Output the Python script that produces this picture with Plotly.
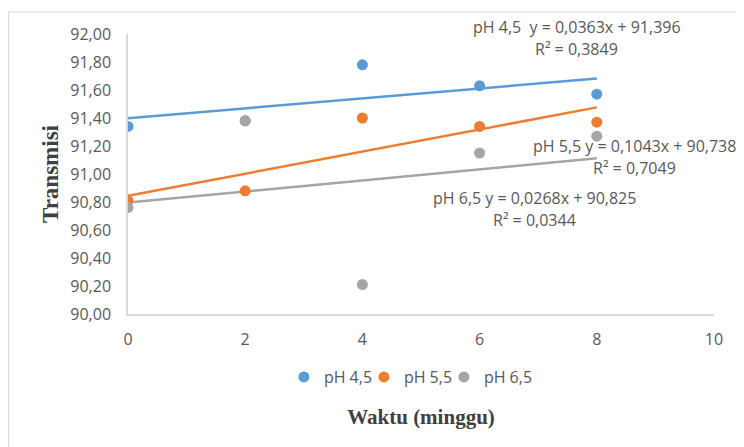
import numpy as np
import plotly.graph_objects as go

weeks = [0, 2, 4, 6, 8]
series_names = ["pH 4,5", "pH 5,5", "pH 6,5"]
ph45 = [91.34, 91.38, 91.78, 91.63, 91.57]
ph55 = [90.81, 90.88, 91.40, 91.34, 91.37]
ph65 = [90.76, 91.38, 90.21, 91.15, 91.27]
eq_labels = ["pH 4,5\u00a0\u00a0y = 0,0363x + 91,396",
             "pH 5,5 y = 0,1043x + 90,738",
             "pH 6,5 y = 0,0268x + 90,825"]
r2_labels = ["R² = 0,3849", "R² = 0,7049", "R² = 0,0344"]
colors = ["#5B9BD5", "#ED7D31", "#A5A5A5"]
values = [ph45, ph55, ph65]

fig = go.Figure()
trend_x = np.array([weeks[0], weeks[-1]], dtype=float)
for i in range(3):
    m, c = np.polyfit(weeks, values[i], 1)
    fig.add_trace(go.Scatter(
        x=trend_x, y=m * trend_x + c,
        mode="lines", line=dict(color=colors[i], width=2.5),
        showlegend=False, hoverinfo="skip"))
for i in range(3):
    fig.add_trace(go.Scatter(
        x=weeks, y=values[i], mode="markers", name=series_names[i],
        marker=dict(color=colors[i], size=11)))
# invisible spacer entry so the last legend label is not clipped
fig.add_trace(go.Scatter(x=[None], y=[None], mode="markers", name="\u00a0",
                         marker=dict(color="rgba(255,255,255,0)", size=1,
                                     line=dict(width=0, color="rgba(255,255,255,0)")),
                         hoverinfo="skip"))

# annotation anchors (paper coords): (x, y_equation, y_r2)
ann_pos = [(0.766, 1.025, 0.946), (0.8635, 0.600, 0.521), (0.693, 0.414, 0.336)]
for i in range(3):
    ax, y1, y2 = ann_pos[i]
    fig.add_annotation(x=ax, y=y1, xref="paper", yref="paper", text=eq_labels[i],
                       showarrow=False, xanchor="center", yanchor="middle",
                       font=dict(family="Open Sans", size=16, color="#595959"))
    fig.add_annotation(x=ax, y=y2, xref="paper", yref="paper", text=r2_labels[i],
                       showarrow=False, xanchor="center", yanchor="middle",
                       font=dict(family="Open Sans", size=16, color="#595959"))

fig.add_shape(type="rect", xref="paper", yref="paper",
              x0=-0.2039, x1=1.0495, y0=-0.6, y1=1.0786,
              line=dict(color="#D9D9D9", width=1.2), fillcolor="rgba(0,0,0,0)", layer="below")

fig.update_layout(
    width=736, height=439,
    margin=dict(l=120, r=30, t=26, b=133),
    paper_bgcolor="white", plot_bgcolor="white",
    separators=",.",
    font=dict(family="Open Sans", color="#595959"),
    xaxis=dict(range=[0, 10], dtick=2, tick0=0, showgrid=False, zeroline=False,
               showline=True, linecolor="#D9D9D9", linewidth=1.5,
               ticks="outside", ticklen=10, tickcolor="rgba(0,0,0,0)",
               tickfont=dict(size=16, color="#595959"),
               automargin=False,
               title=dict(text="<b>Waktu (minggu)</b>", standoff=60,
                          font=dict(family="Liberation Serif", size=21, color="#404040"))),
    yaxis=dict(range=[90, 92], dtick=0.2, tickformat=".2f", showgrid=False, zeroline=False,
               showline=True, linecolor="#D9D9D9", linewidth=1.5,
               ticks="outside", ticklen=12, tickcolor="rgba(0,0,0,0)",
               tickfont=dict(size=16, color="#595959"),
               automargin=False,
               title=dict(text="<b>Transmisi</b>", standoff=5,
                          font=dict(family="Liberation Serif", size=23, color="#404040"))),
    legend=dict(orientation="h", x=0.266, xanchor="left", y=-0.225, yanchor="middle",
                font=dict(size=16, color="#595959"), itemwidth=30, traceorder="normal",
                entrywidth=35, entrywidthmode="pixels"),
)

fig.write_html("out.html")
